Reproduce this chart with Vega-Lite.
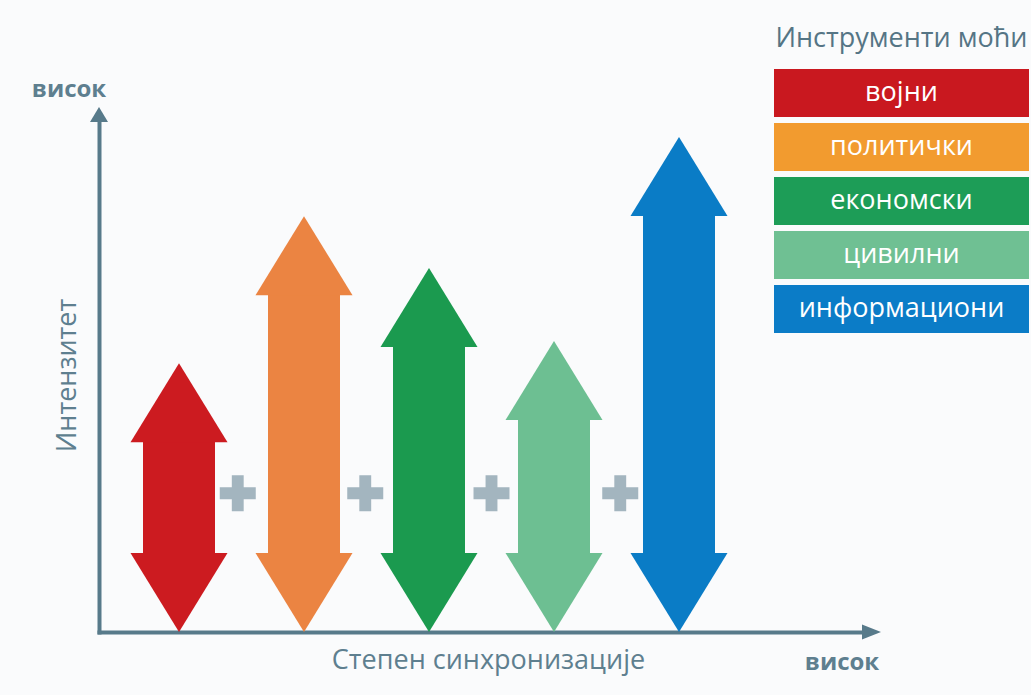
{
  "$schema": "https://vega.github.io/schema/vega-lite/v6.json",
  "width": 767,
  "height": 514,
  "autosize": {"type": "none"},
  "padding": {"left": 99, "top": 118, "right": 165, "bottom": 63},
  "background": "#fafbfc",
  "config": {"view": {"stroke": null}, "font": "Open Sans"},
  "resolve": {"scale": {"x": "independent", "y": "independent", "color": "independent"}},
  "layer": [
    {
      "data": {"values": [
        {"instrument": "војни", "pos": 1, "intensity": 52.3},
        {"instrument": "политички", "pos": 2, "intensity": 80.9},
        {"instrument": "економски", "pos": 3, "intensity": 70.8},
        {"instrument": "цивилни", "pos": 4, "intensity": 56.6},
        {"instrument": "информациони", "pos": 5, "intensity": 96.3}
      ]},
      "layer": [
        {
          "mark": {"type": "bar", "width": 72, "yOffset": 77, "y2Offset": -77},
          "encoding": {
            "x": {"field": "pos", "type": "quantitative",
              "scale": {"domain": [0.36, 6.496], "nice": false, "zero": false, "padding": 0},
              "axis": {"title": "Степен синхронизације", "domainColor": "#577a8a", "domainWidth": 4, "domainCap": "square",
                "ticks": false, "labels": false, "grid": false,
                "titleFont": "Open Sans", "titleFontSize": 27, "titleFontWeight": "normal", "titleColor": "#5e7f8f",
                "titlePadding": 15, "titleX": 389, "titleAlign": "center"}},
            "y": {"field": "intensity", "type": "quantitative",
              "scale": {"domain": [0, 100], "nice": false, "padding": 0},
              "axis": {"title": "Интензитет", "domainColor": "#577a8a", "domainWidth": 4, "domainCap": "square",
                "ticks": false, "labels": false, "grid": false,
                "titleFont": "Open Sans", "titleFontSize": 27, "titleFontWeight": "normal", "titleColor": "#5e7f8f",
                "titlePadding": 18}},
            "y2": {"datum": 0},
            "color": {"field": "instrument", "type": "nominal", "legend": null,
              "scale": {"domain": ["војни", "политички", "економски", "цивилни", "информациони"],
                "range": ["#cc1b20", "#eb8442", "#1b9a4f", "#6dbf92", "#0a7cc6"]}}
          }
        },
        {
          "mark": {"type": "point", "shape": "M0,0L0.97,1.58L-0.97,1.58Z", "size": 10000, "filled": true, "opacity": 1, "strokeWidth": 0},
          "encoding": {
            "x": {"field": "pos", "type": "quantitative"},
            "y": {"field": "intensity", "type": "quantitative"},
            "color": {"field": "instrument", "type": "nominal", "legend": null}
          }
        },
        {
          "mark": {"type": "point", "shape": "M0,0L0.97,-1.58L-0.97,-1.58Z", "size": 10000, "filled": true, "opacity": 1, "strokeWidth": 0},
          "encoding": {
            "x": {"field": "pos", "type": "quantitative"},
            "y": {"datum": 0, "type": "quantitative"},
            "color": {"field": "instrument", "type": "nominal", "legend": null}
          }
        },
        {
          "data": {"values": [
            {"pos": 1.47, "level": 27}, {"pos": 2.49, "level": 27}, {"pos": 3.5, "level": 27}, {"pos": 4.53, "level": 27}
          ]},
          "mark": {"type": "point", "shape": "M-1,-0.33L-0.33,-0.33L-0.33,-1L0.33,-1L0.33,-0.33L1,-0.33L1,0.33L0.33,0.33L0.33,1L-0.33,1L-0.33,0.33L-1,0.33Z",
            "size": 1296, "filled": true, "opacity": 1, "strokeWidth": 0, "color": "#a3b5bf"},
          "encoding": {
            "x": {"field": "pos", "type": "quantitative"},
            "y": {"field": "level", "type": "quantitative"}
          }
        },
        {
          "data": {"values": [{"axis": "x"}]},
          "mark": {"type": "point", "shape": "M-0.4,-0.75L1.5,0L-0.4,0.75Z", "size": 400, "filled": true, "opacity": 1, "strokeWidth": 0, "color": "#577a8a"},
          "encoding": {
            "x": {"datum": 6.496, "type": "quantitative"},
            "y": {"datum": 0, "type": "quantitative"}
          }
        },
        {
          "data": {"values": [{"axis": "y"}]},
          "mark": {"type": "point", "shape": "M-0.9,0.4L0,-1.1L0.9,0.4Z", "size": 400, "filled": true, "opacity": 1, "strokeWidth": 0, "color": "#577a8a"},
          "encoding": {
            "x": {"datum": 0.36, "type": "quantitative"},
            "y": {"datum": 100, "type": "quantitative"}
          }
        },
        {
          "data": {"values": [{"label": "висок"}]},
          "mark": {"type": "text", "font": "Open Sans", "fontSize": 24, "fontWeight": "bold", "color": "#5e7f8f", "align": "center", "baseline": "middle", "dx": -30, "dy": -28},
          "encoding": {
            "x": {"datum": 0.36, "type": "quantitative"},
            "y": {"datum": 100, "type": "quantitative"},
            "text": {"field": "label"}
          }
        },
        {
          "data": {"values": [{"label": "висок"}]},
          "mark": {"type": "text", "font": "Open Sans", "fontSize": 24, "fontWeight": "bold", "color": "#5e7f8f", "align": "center", "baseline": "middle", "dx": -24, "dy": 31},
          "encoding": {
            "x": {"datum": 6.496, "type": "quantitative"},
            "y": {"datum": 0, "type": "quantitative"},
            "text": {"field": "label"}
          }
        }
      ]
    },
    {
      "data": {"values": [
        {"item": "Инструменти моћи", "kind": "title"},
        {"item": "војни", "kind": "box"},
        {"item": "политички", "kind": "box"},
        {"item": "економски", "kind": "box"},
        {"item": "цивилни", "kind": "box"},
        {"item": "информациони", "kind": "box"}
      ]},
      "layer": [
        {
          "transform": [{"filter": "datum.kind === 'box'"}],
          "mark": {"type": "rect"},
          "encoding": {
            "x": {"datum": 0, "type": "quantitative", "scale": {"domain": [0, 1], "range": [675, 930], "nice": false, "zero": false, "padding": 0}, "axis": null},
            "x2": {"datum": 1},
            "y": {"field": "item", "type": "nominal", "axis": null,
              "scale": {"domain": ["Инструменти моћи", "војни", "политички", "економски", "цивилни", "информациони"],
                "range": [-103, 215], "paddingInner": 0.11, "paddingOuter": 0}},
            "color": {"field": "item", "type": "nominal", "legend": null,
              "scale": {"domain": ["војни", "политички", "економски", "цивилни", "информациони"],
                "range": ["#c9181f", "#f29b2f", "#1d9d57", "#6fc093", "#0b7cc7"]}}
          }
        },
        {
          "transform": [{"filter": "datum.kind === 'box'"}],
          "mark": {"type": "text", "font": "Open Sans", "fontSize": 27, "color": "#ffffff", "align": "center", "baseline": "middle"},
          "encoding": {
            "x": {"datum": 0.5, "type": "quantitative"},
            "y": {"field": "item", "type": "nominal"},
            "text": {"field": "item"}
          }
        },
        {
          "transform": [{"filter": "datum.kind === 'title'"}],
          "mark": {"type": "text", "font": "Open Sans", "fontSize": 27, "color": "#557585", "align": "center", "baseline": "middle"},
          "encoding": {
            "x": {"datum": 0.5, "type": "quantitative"},
            "y": {"field": "item", "type": "nominal"},
            "text": {"field": "item"}
          }
        }
      ]
    }
  ]
}
